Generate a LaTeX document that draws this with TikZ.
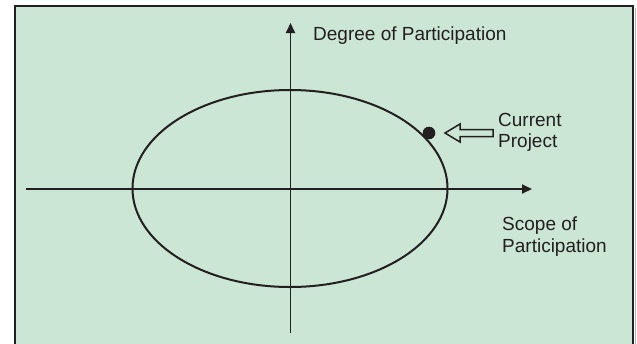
\documentclass[tikz,border=0pt]{standalone}
\usepackage{fontspec}
\setmainfont{Liberation Sans}
\usetikzlibrary{arrows.meta}
\definecolor{bgreen}{RGB}{203,230,212}
\definecolor{ink}{RGB}{35,31,32}
\begin{document}
\begin{tikzpicture}[x=1pt,y=-1pt,
  axis/.style={draw=ink,line width=1.8pt,-{Triangle[length=10pt,width=9pt]}},
  lbl/.style={inner sep=0pt,text=ink,font=\fontsize{19}{21}\selectfont,align=left}]
\useasboundingbox (0,0) rectangle (637,343);
\begin{scope}
\clip (0,0) rectangle (637,343);
\draw[gray!60,line width=1.5pt] (635.5,8) -- (635.5,360);
\filldraw[fill=bgreen,draw=ink,line width=2pt] (15,6) rectangle (633,360);
\end{scope}
\coordinate (xl) at (26,189);
\coordinate (xr) at (532,189);
\coordinate (yb) at (290.5,333);
\coordinate (yt) at (290.5,23);
\coordinate (c) at (290,188.5);
\draw[draw=ink,line width=2pt] (c) ellipse [x radius=157.5, y radius=98.5];
\draw[axis] (xl) -- (xr);
\draw[axis] (yb) -- (yt);
\fill[ink] (429,133) circle (6.3);
\draw[draw=ink,line width=1.5pt,fill=bgreen,line join=miter]
  (445,133) -- (460,124) -- (460,129.5) -- (493,129.5) -- (493,136.5) -- (460,136.5) -- (460,142) -- cycle;
\node[lbl,anchor=base west] (deg) at (313,40) {Degree of Participation};
\node[lbl,anchor=base west] (cur) at (498,147.5) {Current\\Project};
\node[lbl,anchor=base west,font=\fontsize{19}{22}\selectfont] (scope) at (502,252.5) {Scope of\\Participation};
\end{tikzpicture}
\end{document}
